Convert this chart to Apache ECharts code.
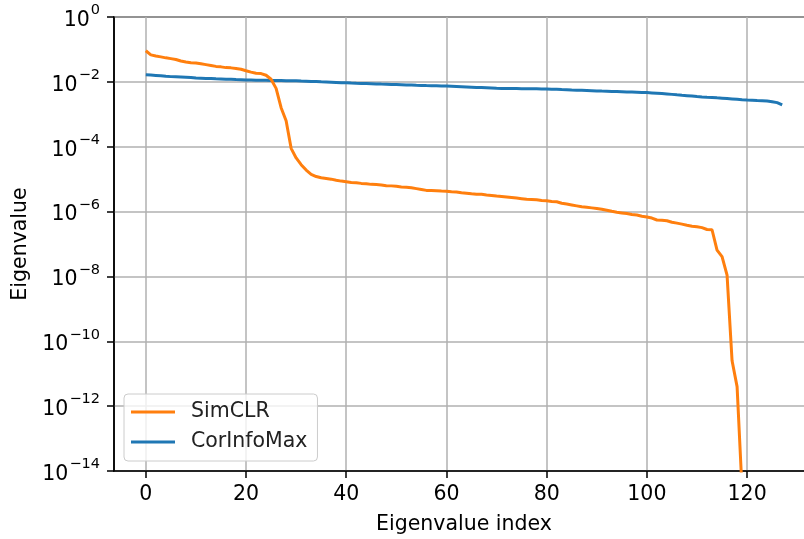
<!DOCTYPE html>
<html lang="en">
<head>
    <meta charset="UTF-8">
    <title>Eigenvalue spectrum</title>
    <script src="https://cdn.jsdelivr.net/npm/echarts@6/dist/echarts.min.js"></script>
</head>
<body style="margin:0;background:#fff;">
<div id="main" style="width:804px;height:539px;"></div>
<script type="text/javascript">
    // x tick labels and y decades
    var xTicks = [0, 20, 40, 60, 80, 100, 120];
    var yTicks = [1e-14, 1e-12, 1e-10, 1e-8, 1e-6, 1e-4, 1e-2, 1];

    // SimCLR eigenvalues, index 0..119
    var simclr = [
        9.1e-2, 6.8e-2, 6.3e-2, 5.9e-2, 5.5e-2, 5.2e-2, 4.9e-2, 4.4e-2, 4.1e-2, 3.9e-2,
        3.8e-2, 3.6e-2, 3.4e-2, 3.2e-2, 3.0e-2, 2.9e-2, 2.75e-2, 2.7e-2, 2.6e-2, 2.45e-2,
        2.2e-2, 2.0e-2, 1.85e-2, 1.8e-2, 1.6e-2, 1.2e-2, 6.3e-3, 1.6e-3, 6.3e-4, 8.9e-5,
        4.5e-5, 2.8e-5, 1.9e-5, 1.4e-5, 1.2e-5, 1.1e-5, 1.05e-5, 1.0e-5, 9.3e-6, 8.7e-6,
        8.3e-6, 7.9e-6, 7.8e-6, 7.4e-6, 7.2e-6, 6.9e-6, 6.8e-6, 6.6e-6, 6.3e-6, 6.2e-6,
        6.0e-6, 5.75e-6, 5.6e-6, 5.4e-6, 5.1e-6, 4.8e-6, 4.5e-6, 4.45e-6, 4.4e-6, 4.3e-6,
        4.25e-6, 4.1e-6, 4.0e-6, 3.8e-6, 3.7e-6, 3.55e-6, 3.45e-6, 3.4e-6, 3.25e-6, 3.15e-6,
        3.0e-6, 2.9e-6, 2.8e-6, 2.7e-6, 2.6e-6, 2.5e-6, 2.4e-6, 2.35e-6, 2.3e-6, 2.2e-6,
        2.15e-6, 2.05e-6, 2.0e-6, 1.8e-6, 1.7e-6, 1.6e-6, 1.5e-6, 1.4e-6, 1.35e-6, 1.3e-6,
        1.25e-6, 1.18e-6, 1.1e-6, 1.02e-6, 9.5e-7, 9.1e-7, 8.7e-7, 8.1e-7, 7.8e-7, 7.2e-7,
        6.8e-7, 6.3e-7, 5.5e-7, 5.4e-7, 5.2e-7, 4.7e-7, 4.4e-7, 4.1e-7, 3.8e-7, 3.55e-7,
        3.4e-7, 3.2e-7, 2.8e-7, 2.75e-7, 6.5e-8, 4.1e-8, 1.1e-8, 2.5e-11, 4e-12, 2.5e-15
    ];

    // CorInfoMax eigenvalues, index 0..127
    var corinfomax = [
        1.66e-2, 1.62e-2, 1.58e-2, 1.53e-2, 1.48e-2, 1.45e-2, 1.43e-2, 1.41e-2, 1.39e-2, 1.37e-2,
        1.31e-2, 1.29e-2, 1.27e-2, 1.26e-2, 1.24e-2, 1.23e-2, 1.21e-2, 1.20e-2, 1.18e-2, 1.17e-2,
        1.15e-2, 1.14e-2, 1.13e-2, 1.12e-2, 1.12e-2, 1.11e-2, 1.10e-2, 1.10e-2, 1.09e-2, 1.08e-2,
        1.08e-2, 1.06e-2, 1.05e-2, 1.03e-2, 1.02e-2, 1.00e-2, 9.9e-3, 9.75e-3, 9.6e-3, 9.45e-3,
        9.33e-3, 9.20e-3, 9.08e-3, 8.97e-3, 8.86e-3, 8.75e-3, 8.64e-3, 8.53e-3, 8.43e-3, 8.33e-3,
        8.23e-3, 8.13e-3, 8.03e-3, 7.94e-3, 7.85e-3, 7.77e-3, 7.69e-3, 7.62e-3, 7.55e-3, 7.48e-3,
        7.41e-3, 7.30e-3, 7.19e-3, 7.08e-3, 6.97e-3, 6.86e-3, 6.75e-3, 6.65e-3, 6.55e-3, 6.43e-3,
        6.31e-3, 6.28e-3, 6.25e-3, 6.22e-3, 6.19e-3, 6.16e-3, 6.13e-3, 6.10e-3, 6.08e-3, 6.05e-3,
        6.03e-3, 5.95e-3, 5.87e-3, 5.78e-3, 5.70e-3, 5.62e-3, 5.55e-3, 5.48e-3, 5.41e-3, 5.34e-3,
        5.27e-3, 5.20e-3, 5.14e-3, 5.08e-3, 5.02e-3, 4.96e-3, 4.90e-3, 4.85e-3, 4.79e-3, 4.73e-3,
        4.68e-3, 4.57e-3, 4.46e-3, 4.35e-3, 4.24e-3, 4.11e-3, 3.98e-3, 3.86e-3, 3.75e-3, 3.64e-3,
        3.53e-3, 3.43e-3, 3.36e-3, 3.31e-3, 3.22e-3, 3.14e-3, 3.06e-3, 2.98e-3, 2.90e-3, 2.82e-3,
        2.75e-3, 2.70e-3, 2.65e-3, 2.61e-3, 2.57e-3, 2.45e-3, 2.29e-3, 1.95e-3
    ];

    function pairs(arr) {
        var out = [];
        for (var i = 0; i < arr.length; i++) {
            out.push([i, arr[i]]);
        }
        return out;
    }

    var font = 'DejaVu Sans';
    var fs = 20.5;
    var myChart = echarts.init(document.getElementById('main'), null, {renderer: 'canvas'});

    var option = {
        backgroundColor: '#ffffff',
        animation: false,
        // plot box runs past the right edge of the picture, as in the original
        grid: {
            left: 114, top: 17, width: 700, height: 454,
            outerBoundsMode: 'none',
            show: true, borderColor: '#000', borderWidth: 1.5, backgroundColor: 'transparent'
        },
        legend: {
            data: ['SimCLR', 'CorInfoMax'],
            orient: 'vertical',
            left: 124,
            top: 394,
            padding: [7, 10, 8, 7],
            itemGap: 8,
            itemWidth: 44,
            itemHeight: 3,
            icon: 'rect',
            backgroundColor: 'rgba(255,255,255,0.8)',
            borderColor: '#cccccc',
            borderWidth: 1,
            borderRadius: 4,
            textStyle: {fontFamily: font, fontSize: fs, lineHeight: 22, color: '#222', padding: [0, 0, 0, 11]}
        },
        xAxis: {
            type: 'value',
            min: -6.35,
            max: 133.35,
            name: 'Eigenvalue index',
            nameLocation: 'middle',
            nameGap: 43,
            nameTextStyle: {fontFamily: font, fontSize: fs, color: '#000'},
            axisLine: {onZero: false, lineStyle: {color: '#000', width: 1.5}},
            axisTick: {show: true, length: 7, customValues: xTicks, lineStyle: {color: '#000', width: 1.5}},
            axisLabel: {customValues: xTicks, margin: 13, fontFamily: font, fontSize: fs, color: '#000'},
            splitLine: {show: true, lineStyle: {color: '#b0b0b0', width: 1.5}}
        },
        yAxis: {
            type: 'log',
            logBase: 10,
            min: 1e-14,
            max: 1,
            name: 'Eigenvalue',
            nameLocation: 'middle',
            nameGap: 80,
            nameTextStyle: {fontFamily: font, fontSize: fs, color: '#000'},
            axisLine: {show: true, onZero: false, lineStyle: {color: '#000', width: 1.5}},
            axisTick: {show: true, length: 7, customValues: yTicks, lineStyle: {color: '#000', width: 1.5}},
            axisLabel: {
                customValues: yTicks,
                margin: 14,
                color: '#000',
                formatter: function (v) {
                    var e = Math.round(Math.log(v) / Math.LN10);
                    var s = e < 0 ? '\u2212' + (-e) : '' + e;
                    return '{b|10}{sup|' + s + '}';
                },
                rich: {
                    b: {fontFamily: font, fontSize: fs, color: '#000', lineHeight: 28, verticalAlign: 'bottom'},
                    sup: {fontFamily: font, fontSize: 14.5, color: '#000', lineHeight: 28, verticalAlign: 'top', padding: [0, 0, 0, 1]}
                }
            },
            splitLine: {show: true, lineStyle: {color: '#b0b0b0', width: 1.5}}
        },
        series: [
            {
                name: 'CorInfoMax',
                type: 'line',
                data: pairs(corinfomax),
                showSymbol: false,
                symbol: 'none',
                clip: true,
                lineStyle: {color: '#1f77b4', width: 3},
                itemStyle: {color: '#1f77b4'},
                z: 3
            },
            {
                name: 'SimCLR',
                type: 'line',
                data: pairs(simclr),
                showSymbol: false,
                symbol: 'none',
                clip: true,
                lineStyle: {color: '#ff7f0e', width: 3},
                itemStyle: {color: '#ff7f0e'},
                z: 4
            }
        ]
    };

    myChart.setOption(option);
</script>
</body>
</html>
